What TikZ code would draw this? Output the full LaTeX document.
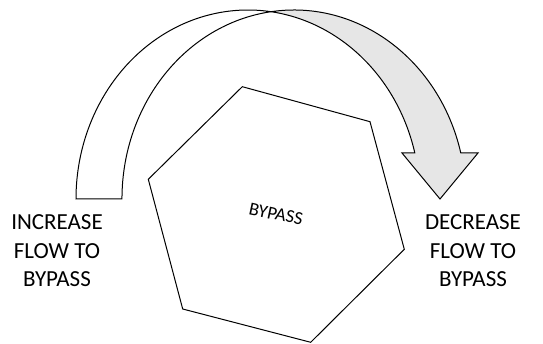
\documentclass[tikz,border=0pt]{standalone}
\usepackage{fontspec}
\setmainfont{Carlito}
\begin{document}
\begin{tikzpicture}[x=1pt,y=1pt,
  outline/.style={draw=black,line width=1pt,line join=miter},
  band/.style={outline,fill=white},
  shade/.style={outline,fill={rgb,255:red,230;green,230;blue,230}},
  lbl/.style={align=center,font=\fontsize{23}{28.5}\selectfont},
  hexlbl/.style={font=\fontsize{18.5}{22}\selectfont}]
\useasboundingbox (0,0) rectangle (543,344);
% ellipse parameters: rx=172, ry=189, centres (248,145) and (294,145)
\coordinate (e1l) at (76,145);
\coordinate (cross) at ({248+172*cos(82.32)},{145+189*sin(82.32)});
\coordinate (e2r) at ({294+172*cos(14.09)},{145+189*sin(14.09)});
\coordinate (e1r) at ({248+172*cos(14.09)},{145+189*sin(14.09)});
\coordinate (hr) at (478,191);
\coordinate (tip) at (440,145);
\coordinate (hl) at (402,191);
% white band
\draw[band] (e1l) arc[start angle=180,end angle=82.32,x radius=172,y radius=189]
  arc[start angle=97.68,end angle=180,x radius=172,y radius=189] -- cycle;
% grey band with head
\draw[shade] (cross) arc[start angle=97.68,end angle=14.09,x radius=172,y radius=189]
  -- (hr) -- (tip) -- (hl) -- (e1r)
  arc[start angle=14.09,end angle=82.32,x radius=172,y radius=189] -- cycle;
% hexagon
\coordinate (h1) at (242.3,257.3);
\coordinate (h2) at (370,222.3);
\coordinate (h3) at (404.3,94.7);
\coordinate (h4) at (310.7,1.7);
\coordinate (h5) at (182.7,35);
\coordinate (h6) at (148.3,164.7);
\draw[outline] (h1) -- (h2) -- (h3) -- (h4) -- (h5) -- (h6) -- cycle;
\node[hexlbl,rotate=-12] (bp) at (276,130) {BYPASS};
\node[lbl] (inc) at (57,93) {INCREASE\\FLOW TO\\BYPASS};
\node[lbl] (dec) at (473,93) {DECREASE\\FLOW TO\\BYPASS};
\end{tikzpicture}
\end{document}
